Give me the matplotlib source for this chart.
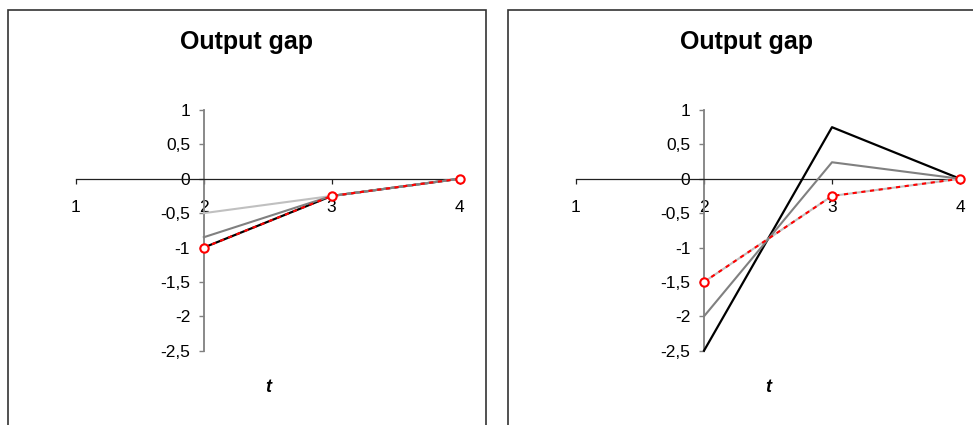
import matplotlib
matplotlib.use("Agg")
import matplotlib.pyplot as plt
from matplotlib.patches import Rectangle

plt.rcParams["font.family"] = ["Liberation Sans", "DejaVu Sans"]

# ---- data -------------------------------------------------------------
t = [2, 3, 4]

left_black = [-1.0, -0.25, 0.0]
left_gray = [-0.85, -0.25, 0.0]
left_light = [-0.5, -0.25, 0.0]
left_red = [-1.0, -0.25, 0.0]

right_black = [-2.5, 0.75, 0.0]
right_gray = [-2.0, 0.24, 0.0]
right_light = [-1.5, -0.25, 0.0]
right_red = [-1.5, -0.25, 0.0]

x_ticks = [1, 2, 3, 4]
x_tick_labels = ["1", "2", "3", "4"]
y_ticks = [1, 0.5, 0, -0.5, -1, -1.5, -2, -2.5]
y_tick_labels = ["1", "0,5", "0", "-0,5", "-1", "-1,5", "-2", "-2,5"]

title = "Output gap"
xlabel = "t"

# ---- figure -----------------------------------------------------------
W, H = 973, 425
fig = plt.figure(figsize=(W / 100, H / 100), dpi=100)


def px_rect(x0, y_top, x1, y_bot):
    return [x0 / W, 1 - y_bot / H, (x1 - x0) / W, (y_bot - y_top) / H]


def panel(box, axes_px, series):
    bx0, bx1 = box
    # chart frame
    fig.patches.append(Rectangle((bx0 / W, -0.1), (bx1 - bx0) / W, 1.1 - 10.5 / H,
                                 transform=fig.transFigure, fill=False,
                                 edgecolor="#333333", linewidth=1.2,
                                 clip_on=False))
    ax = fig.add_axes(px_rect(*axes_px))
    ax.set_xlim(1, 4)
    ax.set_ylim(-2.5, 1)

    black, gray, light, red = series
    ax.plot(t, black, color="black", lw=1.6, zorder=3, clip_on=False)
    ax.plot(t, light, color="#c0c0c0", lw=1.5, zorder=4, clip_on=False)
    ax.plot(t, gray, color="#808080", lw=1.5, zorder=5, clip_on=False)
    ax.plot(t, red, color="#ff0000", lw=1.5, ls=(0, (2, 2.2)), marker="o",
            ms=6, mfc="white", mec="#ff0000", mew=1.5, zorder=6, clip_on=False)

    for s in ("top", "right"):
        ax.spines[s].set_visible(False)
    ax.spines["left"].set_position(("data", 2))
    ax.spines["bottom"].set_position(("data", 0))
    ax.spines["left"].set_color("#808080")
    ax.spines["left"].set_linewidth(1.3)
    ax.spines["bottom"].set_color("#202020")
    ax.spines["bottom"].set_linewidth(0.9)

    ax.set_xticks(x_ticks)
    ax.set_xticklabels(x_tick_labels)
    ax.set_yticks(y_ticks)
    ax.set_yticklabels(y_tick_labels)
    ax.tick_params(axis="x", direction="out", length=3.5, width=0.9,
                   color="#202020", pad=12, labelsize=12.5)
    ax.tick_params(axis="y", direction="out", length=3.8, width=1.0,
                   color="#808080", pad=6, labelsize=12.5)
    ax.patch.set_visible(False)

    xc = (axes_px[0] + axes_px[2]) / 2
    fig.text((bx0 + bx1) / 2 / W, 1 - 49.5 / H, title,
             ha="center", va="baseline", fontsize=18, fontweight="bold")
    fig.text(xc / W, 1 - 387 / H, xlabel, ha="center", va="center",
             fontsize=13, fontweight="bold", fontstyle="italic")
    return ax


panel((7.5, 486), (76, 110, 459.5, 350.7),
      (left_black, left_gray, left_light, left_red))
panel((507.5, 986), (576, 110, 960, 350.7),
      (right_black, right_gray, right_light, right_red))

fig.savefig("out.png", dpi=100, facecolor="white")
